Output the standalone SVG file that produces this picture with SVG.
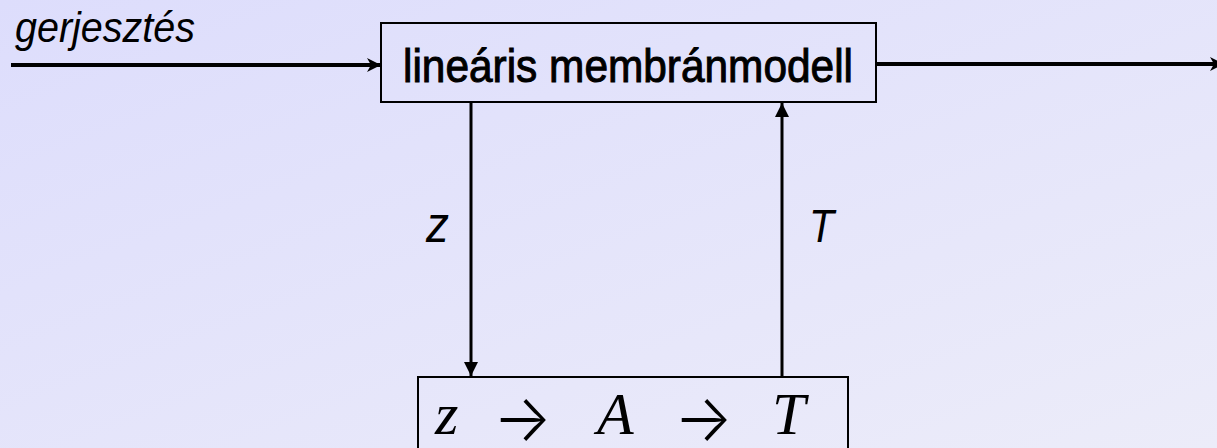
<svg xmlns="http://www.w3.org/2000/svg" width="1217" height="448" viewBox="0 0 1217 448">
<defs>
<linearGradient id="bg" x1="0" y1="0" x2="1" y2="1">
<stop offset="0" stop-color="#DDDDFC"/>
<stop offset="1" stop-color="#ECECF9"/>
</linearGradient>
<marker id="ah" viewBox="0 0 14 14" refX="14" refY="7" markerWidth="14" markerHeight="14" markerUnits="userSpaceOnUse" orient="auto">
<path d="M0,0 L14,7 L0,14 L4,7 Z" fill="#000"/>
</marker>
<marker id="ah2" viewBox="0 0 14 14" refX="14" refY="7" markerWidth="14" markerHeight="14" markerUnits="userSpaceOnUse" orient="auto">
<path d="M0,0 L14,7 L0,14 Z" fill="#000"/>
</marker>
</defs>
<style>
.box{fill:none;stroke:#000;stroke-width:2}
.thick{stroke:#000;stroke-width:4;fill:none}
.thin{stroke:#000;stroke-width:3;fill:none}
.sans{font-family:"Liberation Sans",Arial,sans-serif;fill:#000}
.it{font-style:italic}
.math{font-family:"Liberation Serif","Times New Roman",serif;fill:#000;font-size:60px}
.arr{font-family:Inter,"DejaVu Sans",sans-serif;font-weight:300;fill:#000;font-size:66px}
</style>
<rect x="0" y="0" width="1217" height="448" fill="url(#bg)"/>
<g id="connectors">
<line class="thick" x1="11" y1="65" x2="381" y2="65" marker-end="url(#ah)"/>
<line class="thick" x1="876" y1="64" x2="1224" y2="64" marker-end="url(#ah)"/>
<line class="thin" x1="471" y1="102" x2="471" y2="376" marker-end="url(#ah2)"/>
<line class="thin" x1="782" y1="377" x2="782" y2="103" marker-end="url(#ah2)"/>
<text class="sans it" x="15" y="42" font-size="42" textLength="180" lengthAdjust="spacingAndGlyphs">gerjesztés</text>
<text class="sans it" x="426" y="242" font-size="50" textLength="23" lengthAdjust="spacingAndGlyphs">z</text>
<text class="sans it" x="809" y="242" font-size="46" textLength="25" lengthAdjust="spacingAndGlyphs">T</text>
</g>
<g id="node-membran">
<rect class="box" x="381" y="23" width="495" height="79"/>
<text class="sans" x="403" y="82" font-size="46" stroke="#000" stroke-width="1" textLength="450" lengthAdjust="spacingAndGlyphs">lineáris membránmodell</text>
</g>
<g id="node-zAT">
<rect class="box" x="418" y="377" width="430" height="80"/>
<text class="math it" x="435" y="434">z</text>
<text class="arr" x="493" y="441" textLength="59" lengthAdjust="spacingAndGlyphs">→</text>
<text class="math it" x="597" y="434">A</text>
<text class="arr" x="674" y="441" textLength="59" lengthAdjust="spacingAndGlyphs">→</text>
<text class="math it" x="772" y="434">T</text>
</g>
</svg>
